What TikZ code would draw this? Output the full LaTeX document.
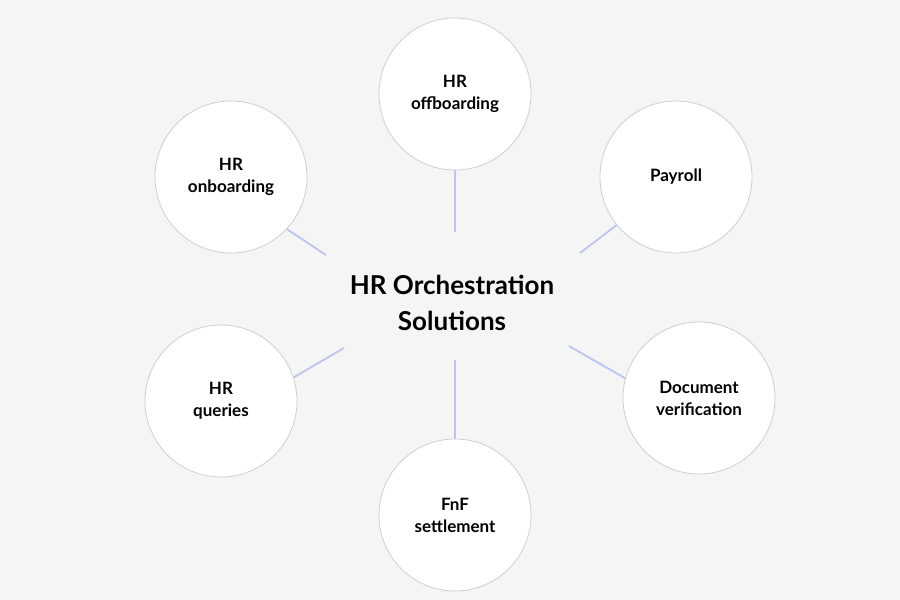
\documentclass[tikz,border=0pt]{standalone}
\usepackage{fontspec}
\setmainfont{Lato}
\usetikzlibrary{positioning}
\definecolor{bgcol}{HTML}{F5F5F5}
\definecolor{ringcol}{HTML}{CFCFCF}
\definecolor{linkcol}{HTML}{BCC4F2}
\begin{document}
\begin{tikzpicture}[x=1pt,y=-1pt,
  topic/.style={circle,draw=ringcol,fill=white,line width=0.8pt,minimum size=152pt,inner sep=0pt,
    align=center,font=\fontsize{17}{22}\selectfont\bfseries},
  link/.style={draw=linkcol,line width=1.8pt}]
% background
\fill[bgcol] (0,0) rectangle (900,600);
\useasboundingbox (0,0) rectangle (900,600);

% centre
\node[align=center,font=\fontsize{26}{36}\selectfont\bfseries] (hub) at (452,303) {HR Orchestration\\Solutions};

% topics
\node[topic] (off) at (455,94) {HR\\offboarding};
\node[topic] (pay) at (676,177) {Payroll};
\node[topic] (onb) at (231,177) {HR\\onboarding};
\node[topic] (qry) at (221,401) {HR\\queries};
\node[topic] (doc) at (699,398) {Document\\verification};
\node[topic] (fnf) at (455,515) {FnF\\settlement};

% link ends
\coordinate (hubN) at (455,232);
\coordinate (hubNW) at (326,255);
\coordinate (hubNE) at (580,253);
\coordinate (hubSW) at (344,348);
\coordinate (hubSE) at (569,346);
\coordinate (hubS) at (455,360);

\draw[link] (off.south) -- (hubN);
\draw[link] (onb.-43) -- (hubNW);
\draw[link] (pay.-141) -- (hubNE);
\draw[link] (qry.18) -- (hubSW);
\draw[link] (doc.165) -- (hubSE);
\draw[link] (fnf.north) -- (hubS);
\end{tikzpicture}
\end{document}
